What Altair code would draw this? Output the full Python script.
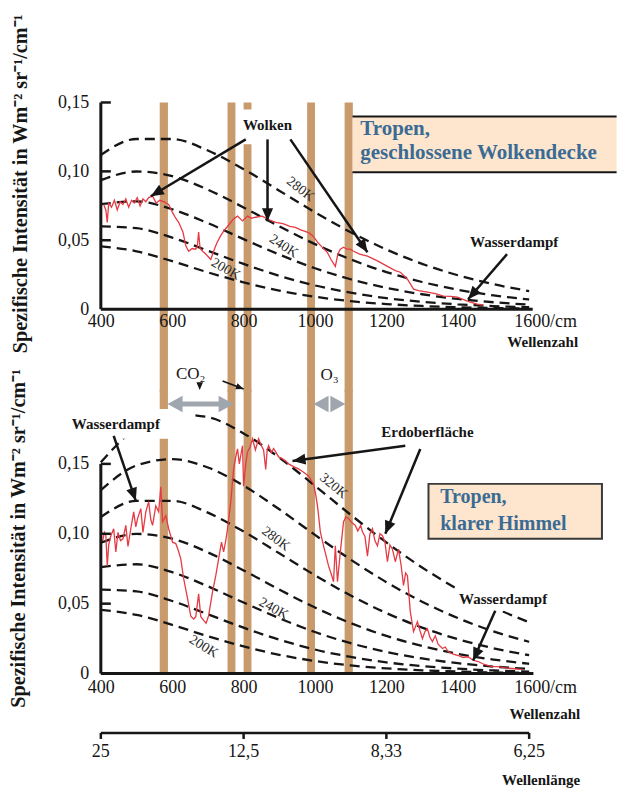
import altair as alt
import pandas as pd

FONT = "Liberation Serif"
INK = "#161616"
RED = "#e63a44"
BAND = "#c89a6c"
PEACH = "#fde6cd"
BLUE = "#3b6b94"
GREY = "#9fa6ae"

W, H_TOP, H_BOT = 429, 207, 210
DOMAIN_X = [400, 1600]
DOMAIN_Y = [0, 0.15]
X_TICKS = [400, 600, 800, 1000, 1200, 1400, 1600]
Y_TICKS = [0, 0.05, 0.10, 0.15]
Y_INNER_TICKS = [0.05, 0.10, 0.15]
Y_TITLE = "Spezifische Intensität in Wm⁻² sr⁻¹/cm⁻¹"

# ---- black-body reference curves ----
NU_GRID = [400, 500, 600, 700, 800, 900, 1000, 1100, 1200, 1300, 1400, 1500, 1600]
B_200K = [0.0455, 0.0420, 0.0348, 0.0267, 0.0194, 0.0134, 0.0090, 0.0058, 0.0037, 0.0023, 0.0014, 0.0008, 0.0005]
B_220K = [0.0601, 0.0588, 0.0519, 0.0424, 0.0328, 0.0242, 0.0172, 0.0119, 0.0080, 0.0053, 0.0035, 0.0022, 0.0014]
B_240K = [0.0762, 0.0782, 0.0725, 0.0624, 0.0508, 0.0396, 0.0297, 0.0217, 0.0155, 0.0108, 0.0074, 0.0050, 0.0033]
B_260K = [0.0936, 0.0999, 0.0965, 0.0867, 0.0738, 0.0601, 0.0472, 0.0361, 0.0269, 0.0197, 0.0141, 0.0100, 0.0070]
B_280K = [0.1119, 0.1235, 0.1235, 0.1151, 0.1016, 0.0860, 0.0703, 0.0558, 0.0433, 0.0329, 0.0246, 0.0181, 0.0131]
B_300K = [0.1312, 0.1489, 0.1534, 0.1474, 0.1344, 0.1175, 0.0992, 0.0815, 0.0654, 0.0514, 0.0397, 0.0302, 0.0227]
B_320K = [0.1512, 0.1758, 0.1858, 0.1834, 0.1718, 0.1545, 0.1343, 0.1136, 0.0938, 0.0759, 0.0604, 0.0474, 0.0367]
CURVES_TOP = {"200K": B_200K, "220K": B_220K, "240K": B_240K, "260K": B_260K, "280K": B_280K}
CURVES_BOTTOM = dict(CURVES_TOP, **{"300K": B_300K, "320K": B_320K})

# ---- measured spectra ----
CLOUD_NU = [408, 414, 418, 422, 430, 438, 446, 454, 462, 470, 478, 486, 494, 502, 510, 518, 526, 534, 545, 555,
            565, 576, 590, 601, 610, 618, 630, 638, 646, 656, 665, 670, 674, 678, 685, 694, 708, 716, 725, 735,
            745, 755, 770, 783, 797, 811, 822, 834, 852, 870, 890, 910, 930, 945, 960, 982, 995, 1007, 1020, 1035,
            1045, 1057, 1064, 1071, 1080, 1090, 1099, 1108, 1125, 1147, 1175, 1203, 1225, 1239, 1250, 1259, 1268, 1276, 1290, 1315,
            1340, 1360, 1380, 1399, 1420, 1435, 1455, 1471]
CLOUD_B = [0.076, 0.072, 0.063, 0.077, 0.074, 0.079, 0.072, 0.078, 0.076, 0.080, 0.074, 0.079, 0.077, 0.081, 0.075, 0.080, 0.078, 0.081, 0.082, 0.077,
           0.079, 0.078, 0.076, 0.070, 0.066, 0.063, 0.056, 0.046, 0.042, 0.044, 0.0435, 0.045, 0.056, 0.044, 0.042, 0.040, 0.036, 0.042, 0.048, 0.053,
           0.057, 0.060, 0.065, 0.0675, 0.064, 0.0675, 0.066, 0.0667, 0.0675, 0.065, 0.063, 0.062, 0.060, 0.0594, 0.0575, 0.0555, 0.053, 0.0486, 0.045, 0.041,
           0.036, 0.031, 0.040, 0.0435, 0.045, 0.0435, 0.0435, 0.042, 0.040, 0.0384, 0.035, 0.031, 0.028, 0.0268, 0.024, 0.0217, 0.018, 0.0145, 0.0135, 0.0123,
           0.011, 0.0094, 0.0092, 0.0087, 0.0065, 0.005, 0.0036, 0.003]

CLEAR_NU = [405, 410, 414, 418, 422, 428, 436, 442, 448, 455, 462, 470, 476, 484, 492, 498, 503, 512, 518, 526,
            534, 540, 545, 554, 562, 568, 573, 582, 590, 601, 610, 617, 624, 632, 643, 652, 660, 666, 674, 680,
            688, 695, 702, 713, 722, 730, 738, 744, 750, 755, 764, 772, 778, 783, 788, 792, 797, 800, 806, 811,
            818, 825, 833, 842, 850, 856, 862, 866, 870, 878, 884, 890, 898, 909, 918, 926, 940, 954, 968, 982,
            996, 1002, 1007, 1015, 1024, 1038, 1047, 1052, 1057, 1063, 1071, 1080, 1087, 1094, 1103, 1113, 1120, 1128, 1133, 1140,
            1147, 1154, 1161, 1168, 1175, 1182, 1189, 1196, 1203, 1210, 1217, 1225, 1234, 1241, 1248, 1254, 1259, 1267, 1276, 1287,
            1295, 1301, 1308, 1315, 1322, 1329, 1337, 1345, 1357, 1365, 1373, 1385, 1401, 1415, 1429, 1443, 1457, 1470, 1485, 1500,
            1513, 1530, 1552, 1570, 1580]
CLEAR_B = [0.095, 0.101, 0.099, 0.077, 0.092, 0.0986, 0.1036, 0.087, 0.101, 0.095, 0.0964, 0.106, 0.091, 0.1036, 0.1157, 0.105, 0.111, 0.118, 0.101, 0.1157,
           0.123, 0.110, 0.106, 0.120, 0.1157, 0.1336, 0.1086, 0.113, 0.1036, 0.094, 0.093, 0.088, 0.082, 0.068, 0.0536, 0.041, 0.039, 0.0407, 0.057, 0.0407,
           0.038, 0.036, 0.0414, 0.0586, 0.070, 0.082, 0.094, 0.087, 0.095, 0.1036, 0.123, 0.1464, 0.155, 0.1607, 0.150, 0.156, 0.163, 0.134, 0.150, 0.1586,
           0.162, 0.168, 0.160, 0.168, 0.163, 0.160, 0.146, 0.160, 0.163, 0.158, 0.161, 0.1586, 0.155, 0.1536, 0.152, 0.150, 0.148, 0.1464, 0.144, 0.1414,
           0.1357, 0.128, 0.120, 0.1014, 0.0914, 0.077, 0.070, 0.0657, 0.0914, 0.0657, 0.087, 0.1086, 0.112, 0.111, 0.108, 0.106, 0.102, 0.106, 0.1014, 0.098,
           0.084, 0.100, 0.1036, 0.095, 0.0914, 0.100, 0.0986, 0.094, 0.080, 0.092, 0.089, 0.080, 0.089, 0.078, 0.063, 0.072, 0.070, 0.0443, 0.030, 0.037,
           0.030, 0.025, 0.030, 0.032, 0.026, 0.0229, 0.027, 0.021, 0.0179, 0.019, 0.0157, 0.014, 0.0129, 0.0115, 0.012, 0.0095, 0.0086, 0.007, 0.0057, 0.005,
           0.005, 0.0042, 0.0036, 0.0032, 0.003]

# ---- absorption bands (wavenumber edges) ----
BAND_LO = [565, 755, 800, 978, 1083]
BAND_HI = [588, 777, 822, 1000, 1106]
BAND_TOP_SPAN = [0.15, -0.06]     # top panel: from top of axis down into the gap
BAND_BOT_SPAN = [0.0, 0.203]      # bottom panel: from axis up into the gap

# ---- wavelength scale (µm) at wavenumbers ----
WL_NU = [400, 800, 1200, 1600]
WL_LABELS = ["25", "12,5", "8,33", "6,25"]

# ---- annotations, top panel ----
TOP_NOTE = {"t": ["Wolken", "Wasserdampf"], "x": [867, 1558], "y": [0.1333, 0.0486]}
TOP_ARROWS = {"x1": [806, 867, 931, 1538], "y1": [0.1232, 0.1232, 0.1232, 0.0399],
              "x2": [540, 867, 1147, 1429], "y2": [0.0819, 0.0638, 0.0413, 0.0072],
              "a": [239, 180, 146, 221]}
TOP_CURVE_LABELS = {"t": ["280K", "240K", "200K"], "x": [959, 912, 750], "y": [0.087, 0.0457, 0.029], "a": [38, 33, 30]}
TOP_BG = {"x1": [786], "x2": [948], "y1": [0.1449], "y2": [0.1196]}
TOP_BOX = {"x1": [1105], "x2": [1845], "y1": [0.0993], "y2": [0.1399]}
TOP_BOX_TEXT = {"t": ["Tropen,", "geschlossene Wolkendecke"], "x": [1127, 1127], "y": [0.1304, 0.1130]}
TOP_AXIS_NAME = {"t": ["Wellenzahl"], "x": [1737], "y": [-0.0239]}

# ---- annotations, bottom panel ----
BOT_NOTE = {"t": ["Wasserdampf", "Erdoberfläche", "Wasserdampf"], "x": [442, 1315, 1527], "y": [0.1786, 0.1729, 0.0536]}
BOT_GAS = {"t": ["CO₂", "O₃"], "x": [652, 1041], "y": [0.2143, 0.2136]}
BOT_ARROWS = {"x1": [436, 1253, 1295, 1505], "y1": [0.170, 0.1629, 0.1607, 0.045],
              "x2": [498, 937, 1197, 1443], "y2": [0.1236, 0.1521, 0.1000, 0.0093],
              "a": [161, 262, 202, 204]}
BOT_SMALL_ARROW = {"x1": [741], "y1": [0.2093], "x2": [800], "y2": [0.2036], "a": [111]}
BOT_SMALL_HEADS = {"x": [800, 677], "y": [0.2036, 0.2029], "a": [111, 180]}
GREY_LINE = {"x1": [620], "x2": [740], "y": [0.1929]}
GREY_HEADS = {"x": [587, 772, 996, 1085], "y": [0.1929, 0.1929, 0.1929, 0.1929], "a": [270, 90, 270, 90]}
BOT_CURVE_LABELS = {"t": ["320K", "280K", "240K", "200K"], "x": [1052, 890, 884, 688],
                    "y": [0.1343, 0.0964, 0.0464, 0.0193], "a": [40, 37, 29, 32]}
BOT_BG = {"x1": [288, 1393], "x2": [652, 1673], "y1": [0.1893, 0.0614], "y2": [0.1679, 0.045]}
BOT_BOX = {"x1": [1318], "x2": [1804], "y1": [0.0964], "y2": [0.1357]}
BOT_BOX_TEXT = {"t": ["Tropen,", "klarer Himmel"], "x": [1351, 1351], "y": [0.1264, 0.1071]}
BOT_AXIS_NAMES = {"t": ["Wellenzahl", "Wellenlänge"], "x": [1743, 1743], "y": [-0.0293, -0.0765]}
WL_LINE_Y = [-0.0425]
WL_TICK_Y2 = [-0.0468]
WL_LABEL_Y = [-0.056]

HEAD = "M0,0L-0.85,2L0.85,2Z"
GREY_HEAD = "M0,0L-1.1,2L1.1,2Z"


def X(field):
    return alt.X(f"{field}:Q", scale=alt.Scale(domain=DOMAIN_X))


def Y(field):
    return alt.Y(f"{field}:Q", scale=alt.Scale(domain=DOMAIN_Y))


def x_axis(pad):
    return alt.Axis(values=X_TICKS,
                    labelExpr="datum.value == 1600 ? '1600/cm' : '' + datum.value",
                    labelOffset={"condition": {"test": "datum.value == 1600", "value": 16}, "value": 0},
                    domain=False, ticks=False, grid=False, title=None,
                    labelFont=FONT, labelFontSize=18, labelColor=INK, labelPadding=pad,
                    labelFlush=False, labelOverlap=False, zindex=1)


def y_axis(tx, ty):
    return alt.Axis(values=Y_TICKS,
                    labelExpr="datum.value == 0 ? '0' : replace(format(datum.value, '.2f'), '.', ',')",
                    domain=False, ticks=False, grid=False,
                    labelFont=FONT, labelFontSize=18, labelColor=INK, labelPadding=12,
                    labelFlush=False, labelOverlap=False,
                    title=Y_TITLE, titleFont=FONT, titleFontSize=20.2, titleFontWeight="bold", titleColor=INK,
                    titleX=tx, titleY=ty, titleAngle=270, titleAlign="center", titleBaseline="middle", zindex=1)


def curves_frame(curves):
    rows = []
    for name, vals in curves.items():
        for nu, b in zip(NU_GRID, vals):
            rows.append({"nu": nu, "B": b, "T": name})
    return pd.DataFrame(rows)


def bands_layer(span, pad, tx, ty):
    # first layer of each panel: carries the axes
    df = pd.DataFrame({"lo": BAND_LO, "hi": BAND_HI, "y1": [span[0]] * len(BAND_LO), "y2": [span[1]] * len(BAND_LO)})
    return alt.Chart(df).mark_rect(color=BAND, clip=False).encode(
        x=alt.X("lo:Q", scale=alt.Scale(domain=DOMAIN_X), axis=x_axis(pad)),
        x2="hi:Q",
        y=alt.Y("y1:Q", scale=alt.Scale(domain=DOMAIN_Y), axis=y_axis(tx, ty)),
        y2="y2:Q")


def curves_layer(curves):
    return alt.Chart(curves_frame(curves)).mark_line(
        color=INK, strokeWidth=2.3, strokeDash=[10, 6], interpolate="monotone", clip=False
    ).encode(x=X("nu"), y=Y("B"), detail="T:N")


def spectrum_layer(nu, b):
    return alt.Chart(pd.DataFrame({"nu": nu, "B": b})).mark_line(
        color=RED, strokeWidth=1.3, clip=False).encode(x=X("nu"), y=Y("B"))


def axes_lines_layer(x_end):
    df = pd.DataFrame({"x1": [DOMAIN_X[0], DOMAIN_X[0]], "x2": [x_end, DOMAIN_X[0]],
                       "y1": [DOMAIN_Y[0], DOMAIN_Y[0]], "y2": [DOMAIN_Y[0], DOMAIN_Y[1]]})
    lines = alt.Chart(df).mark_rule(color=INK, strokeWidth=3, clip=False).encode(
        x=X("x1"), x2="x2:Q", y=Y("y1"), y2="y2:Q")
    tdf = pd.DataFrame({"x1": [DOMAIN_X[0]] * 3, "x2": [428] * 3, "y": Y_INNER_TICKS})
    ticks = alt.Chart(tdf).mark_rule(color=INK, strokeWidth=2.5, clip=False).encode(
        x=X("x1"), x2="x2:Q", y=Y("y"))
    return [lines, ticks]


def rects_layer(d, **kw):
    return alt.Chart(pd.DataFrame(d)).mark_rect(clip=False, **kw).encode(
        x=X("x1"), x2="x2:Q", y=Y("y1"), y2="y2:Q")


def text_layer(d, **kw):
    base = dict(font=FONT, color=INK, clip=False, baseline="middle")
    base.update(kw)
    return alt.Chart(pd.DataFrame(d)).mark_text(**base).encode(x=X("x"), y=Y("y"), text="t:N")


def rot_text_layer(d):
    return alt.Chart(pd.DataFrame(d)).mark_text(
        font=FONT, fontSize=14, color="#2a2a2a", clip=False, baseline="middle", align="center"
    ).encode(x=X("x"), y=Y("y"), text="t:N", angle=alt.Angle("a:Q", scale=None))


def arrows_layers(d, width=2.5, size=170):
    df = pd.DataFrame(d)
    lines = alt.Chart(df).mark_rule(color=INK, strokeWidth=width, clip=False).encode(
        x=X("x1"), x2="x2:Q", y=Y("y1"), y2="y2:Q")
    heads = alt.Chart(df).mark_point(shape=HEAD, filled=True, size=size, color=INK, opacity=1,
                                     strokeWidth=0, clip=False).encode(
        x=X("x2"), y=Y("y2"), angle=alt.Angle("a:Q", scale=None))
    return [lines, heads]


def heads_layer(d, shape, size, color):
    return alt.Chart(pd.DataFrame(d)).mark_point(shape=shape, filled=True, size=size, color=color,
                                                 opacity=1, strokeWidth=0, clip=False).encode(
        x=X("x"), y=Y("y"), angle=alt.Angle("a:Q", scale=None))


# ---------------- top panel ----------------
top_box_border = pd.DataFrame({"x1": TOP_BOX["x1"] * 2, "x2": TOP_BOX["x2"] * 2,
                               "y": [TOP_BOX["y1"][0], TOP_BOX["y2"][0]]})
top_layers = [
    bands_layer(BAND_TOP_SPAN, 3, -80, 81),
    curves_layer(CURVES_TOP),
    spectrum_layer(CLOUD_NU, CLOUD_B),
    *axes_lines_layer(1610),
    rects_layer(TOP_BG, color="white"),
    rects_layer(TOP_BOX, color=PEACH),
    alt.Chart(top_box_border).mark_rule(color=INK, strokeWidth=2, clip=False).encode(x=X("x1"), x2="x2:Q", y=Y("y")),
    text_layer(TOP_BOX_TEXT, fontSize=21, fontWeight="bold", color=BLUE, align="left"),
    text_layer(TOP_NOTE, fontSize=15, fontWeight="bold", align="center"),
    text_layer(TOP_AXIS_NAME, fontSize=15, fontWeight="bold", align="right"),
    rot_text_layer(TOP_CURVE_LABELS),
    *arrows_layers(TOP_ARROWS),
]
top = alt.layer(*top_layers).properties(width=W, height=H_TOP)

# ---------------- bottom panel ----------------
wl_line = pd.DataFrame({"x1": [WL_NU[0]], "x2": [WL_NU[-1]], "y": WL_LINE_Y})
wl_ticks = pd.DataFrame({"x": WL_NU, "y1": WL_LINE_Y * 4, "y2": WL_TICK_Y2 * 4})
wl_labels = pd.DataFrame({"x": WL_NU, "y": WL_LABEL_Y * 4, "t": WL_LABELS})
grey_line = pd.DataFrame(GREY_LINE)

bot_layers = [
    bands_layer(BAND_BOT_SPAN, 5, -82, 74),
    curves_layer(CURVES_BOTTOM),
    spectrum_layer(CLEAR_NU, CLEAR_B),
    *axes_lines_layer(1612),
    rects_layer(BOT_BG, color="white"),
    rects_layer(BOT_BOX, color=PEACH, stroke="#3a3a3a", strokeWidth=2),
    text_layer(BOT_BOX_TEXT, fontSize=20, fontWeight="bold", color=BLUE, align="left"),
    text_layer(BOT_NOTE, fontSize=15, fontWeight="bold", align="center"),
    text_layer(BOT_GAS, fontSize=17, align="center"),
    text_layer(BOT_AXIS_NAMES, fontSize=15, fontWeight="bold", align="right"),
    rot_text_layer(BOT_CURVE_LABELS),
    alt.Chart(grey_line).mark_rule(color=GREY, strokeWidth=5, clip=False).encode(x=X("x1"), x2="x2:Q", y=Y("y")),
    heads_layer(GREY_HEADS, GREY_HEAD, 225, GREY),
    *arrows_layers(BOT_ARROWS),
    alt.Chart(pd.DataFrame(BOT_SMALL_ARROW)).mark_rule(color=INK, strokeWidth=1.8, clip=False).encode(
        x=X("x1"), x2="x2:Q", y=Y("y1"), y2="y2:Q"),
    heads_layer(BOT_SMALL_HEADS, HEAD, 60, INK),
    alt.Chart(wl_line).mark_rule(color=INK, strokeWidth=2.5, clip=False).encode(x=X("x1"), x2="x2:Q", y=Y("y")),
    alt.Chart(wl_ticks).mark_rule(color=INK, strokeWidth=2.5, clip=False).encode(x=X("x"), y=Y("y1"), y2="y2:Q"),
    text_layer(wl_labels, fontSize=18, align="center"),
]
bottom = alt.layer(*bot_layers).properties(width=W, height=H_BOT)

chart = alt.vconcat(top, bottom, spacing=155, bounds="flush").properties(
    padding={"left": 8, "top": 13, "right": 0, "bottom": 0}, background="white"
).configure_view(stroke=None)

chart.save("out.html", embed_options={"renderer": "svg", "actions": False})
